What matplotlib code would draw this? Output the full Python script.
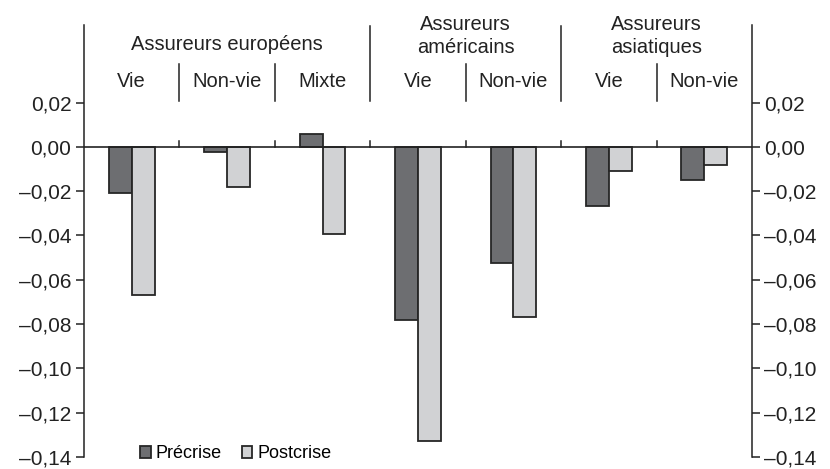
import numpy as np
import matplotlib.pyplot as plt
from matplotlib.ticker import FuncFormatter

plt.rcParams['font.family'] = ['Liberation Sans', 'DejaVu Sans']

# données
sous_categories = ['Vie', 'Non-vie', 'Mixte', 'Vie', 'Non-vie', 'Vie', 'Non-vie']
groupes = ['Assureurs européens', 'Assureurs\naméricains', 'Assureurs\nasiatiques']
groupe_taille = [3, 2, 2]
precrise = [-0.021, -0.0025, 0.006, -0.078, -0.0525, -0.0265, -0.0148]
postcrise = [-0.067, -0.018, -0.0395, -0.133, -0.077, -0.011, -0.008]
yticks = [0.02, 0.00, -0.02, -0.04, -0.06, -0.08, -0.10, -0.12, -0.14]

fig = plt.figure(figsize=(8.3, 4.69), dpi=100)
ax = fig.add_axes([0.1012, 0.0256, 0.8048, 0.9211])

x = np.arange(len(sous_categories))
w = 0.24
ax.bar(x - w / 2, precrise, w, color='#6d6e71', edgecolor='#262626', linewidth=1.3,
       label='Précrise', zorder=3)
ax.bar(x + w / 2, postcrise, w, color='#d1d2d4', edgecolor='#262626', linewidth=1.3,
       label='Postcrise', zorder=3)

ax.set_xlim(-0.5, len(x) - 0.5)
ax.set_ylim(-0.14, 0.055)
ax.axhline(0, color='#222222', linewidth=1.2, zorder=4)

# séparateurs et petits repères sur la ligne zéro
frontieres = np.cumsum(groupe_taille)[:-1] - 0.5
for b in np.arange(0.5, len(x) - 0.5, 1.0):
    ax.plot([b, b], [0, 0.0025], color='#222222', lw=1.1, zorder=4)
    haut = 0.0545 if np.any(np.isclose(b, frontieres)) else 0.0374
    ax.plot([b, b], [0.0207, haut], color='#222222', lw=1.1)

# étiquettes
for i, s in enumerate(sous_categories):
    ax.text(i, 0.0297, s, ha='center', va='center', fontsize=14.5, color='#222222')
debut = 0
for g, n in zip(groupes, groupe_taille):
    c = debut + (n - 1) / 2
    yy = 0.0464 if '\n' not in g else 0.0502
    ax.text(c, yy, g, ha='center', va='center', fontsize=14.5, color='#222222',
            linespacing=1.25)
    debut += n

ax.set_yticks(yticks)
ax.yaxis.set_major_formatter(FuncFormatter(
    lambda v, p: ('–' if v < -1e-9 else '') + f'{abs(v):.2f}'.replace('.', ',')))
ax.tick_params(axis='y', direction='out', length=6, width=1.1, labelsize=15,
               labelcolor='#222222', color='#222222', left=True, right=True,
               labelleft=True, labelright=True, pad=3)
ax.tick_params(axis='x', bottom=False, labelbottom=False)
for sp in ['top', 'bottom']:
    ax.spines[sp].set_visible(False)
for sp in ['left', 'right']:
    ax.spines[sp].set_linewidth(1.1)
    ax.spines[sp].set_color('#222222')

ax.legend(loc='lower left', bbox_to_anchor=(0.06, -0.05), ncol=2, frameon=False,
          fontsize=13, handlelength=0.6, handleheight=0.6, handletextpad=0.25,
          columnspacing=1.1)

fig.savefig('out.png', dpi=100)
